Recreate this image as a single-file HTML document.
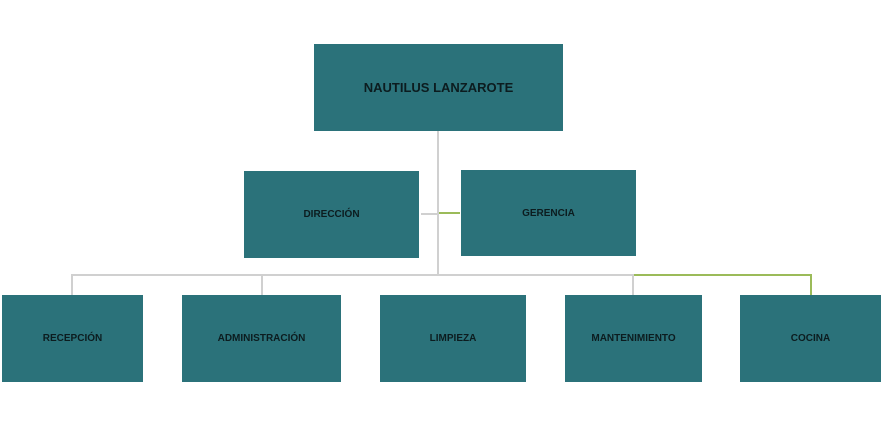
<!DOCTYPE html>
<html><head><meta charset="utf-8"><style>
body{margin:0;width:885px;height:429px;background:#fff;position:relative;overflow:hidden;font-family:"Liberation Sans","DejaVu Sans",sans-serif;}
.b{position:absolute;background:#2b727a;display:flex;align-items:center;justify-content:center;color:#0c1c1f;font-weight:bold;font-size:10px;}
.l{position:absolute;background:#d0d0d0;}
.g{position:absolute;background:#9bbb59;}
</style></head><body>
<div class="l" style="left:437px;top:131px;width:2px;height:145px"></div>
<div class="l" style="left:421px;top:213px;width:17px;height:2px"></div>
<div class="g" style="left:439px;top:212px;width:21px;height:2px"></div>
<div class="l" style="left:71px;top:274px;width:563px;height:2px"></div>
<div class="g" style="left:633px;top:274px;width:179px;height:2px"></div>
<div class="l" style="left:71px;top:274px;width:2px;height:21px"></div>
<div class="l" style="left:261px;top:274px;width:2px;height:21px"></div>
<div class="l" style="left:632px;top:274px;width:2px;height:21px"></div>
<div class="g" style="left:810px;top:274px;width:2px;height:21px"></div>
<div class="b" style="left:314px;top:44px;width:249px;height:87px;font-size:13px">NAUTILUS LANZAROTE</div>
<div class="b" style="left:244px;top:171px;width:175px;height:87px">DIRECCIÓN</div>
<div class="b" style="left:461px;top:170px;width:175px;height:86px">GERENCIA</div>
<div class="b" style="left:2px;top:295px;width:141px;height:87px">RECEPCIÓN</div>
<div class="b" style="left:182px;top:295px;width:159px;height:87px">ADMINISTRACIÓN</div>
<div class="b" style="left:380px;top:295px;width:146px;height:87px">LIMPIEZA</div>
<div class="b" style="left:565px;top:295px;width:137px;height:87px">MANTENIMIENTO</div>
<div class="b" style="left:740px;top:295px;width:141px;height:87px">COCINA</div>
</body></html>
